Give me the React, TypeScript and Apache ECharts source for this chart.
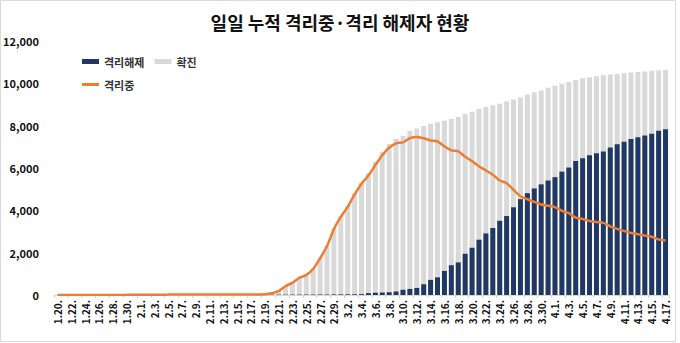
import React, { useEffect, useRef } from "react";
import * as echarts from "echarts";

const categories = [
  "1.20.","1.21.","1.22.","1.23.","1.24.","1.25.","1.26.","1.27.","1.28.","1.29.","1.30.","1.31.",
  "2.1.","2.2.","2.3.","2.4.","2.5.","2.6.","2.7.","2.8.","2.9.","2.10.","2.11.","2.12.","2.13.","2.14.","2.15.","2.16.","2.17.","2.18.","2.19.","2.20.","2.21.","2.22.","2.23.","2.24.","2.25.","2.26.","2.27.","2.28.","2.29.",
  "3.1.","3.2.","3.3.","3.4.","3.5.","3.6.","3.7.","3.8.","3.9.","3.10.","3.11.","3.12.","3.13.","3.14.","3.15.","3.16.","3.17.","3.18.","3.19.","3.20.","3.21.","3.22.","3.23.","3.24.","3.25.","3.26.","3.27.","3.28.","3.29.","3.30.","3.31.",
  "4.1.","4.2.","4.3.","4.4.","4.5.","4.6.","4.7.","4.8.","4.9.","4.10.","4.11.","4.12.","4.13.","4.14.","4.15.","4.16.","4.17."
];

const confirmed = [
  1,1,1,1,2,2,3,4,4,4,6,11,
  12,15,15,16,19,23,24,24,27,27,28,28,28,28,28,29,30,31,51,104,204,433,602,833,977,1261,1766,2337,3150,
  3736,4212,4812,5328,5766,6284,6767,7134,7382,7513,7755,7869,7979,8086,8162,8236,8320,8413,8565,8652,8799,8897,8961,9037,9137,9241,9332,9478,9583,9661,9786,
  9887,9976,10062,10156,10237,10284,10331,10384,10423,10450,10480,10512,10537,10564,10591,10613,10635
];

const released = [
  0,0,0,0,0,0,0,0,0,0,0,0,
  0,0,0,0,1,2,2,2,3,3,4,7,7,7,9,9,10,12,16,16,16,16,18,18,22,22,22,22,27,
  30,31,34,41,88,108,118,130,166,247,288,333,510,714,834,1137,1407,1540,1947,2233,2612,2909,3166,3507,3730,4144,4528,4811,5033,5228,5408,
  5567,5828,6021,6325,6463,6598,6694,6776,6973,7117,7243,7368,7447,7534,7616,7757,7829
];

const isolated = [
  1,1,1,1,2,2,3,4,4,4,6,11,
  12,15,15,16,18,21,22,22,24,24,24,21,21,21,19,20,20,19,35,87,187,415,578,807,945,1227,1731,2299,3106,
  3688,4159,4750,5255,5643,6134,6605,6954,7165,7212,7407,7470,7402,7300,7253,7024,6832,6789,6527,6325,6085,5884,5684,5410,5281,4966,4665,4523,4398,4275,4216,
  4155,3979,3867,3654,3591,3500,3445,3408,3246,3125,3026,2930,2873,2808,2750,2627,2576
];

const titleText = "일일 누적 격리중·격리 해제자 현황";
const fontKR = "'Noto Sans CJK KR', 'Noto Sans', sans-serif";

export default function App() {
  const ref = useRef<HTMLDivElement>(null);
  useEffect(() => {
    if (!ref.current) return;
    const chart = echarts.init(ref.current, null, { renderer: "svg" });
    chart.setOption({
      animation: false,
      backgroundColor: "#ffffff",
      title: {
        text: titleText,
        left: "center",
        top: 8,
        textStyle: { fontFamily: fontKR, fontSize: 18, fontWeight: "bold", color: "#111" },
      },
      graphic: [
        {
          type: "rect",
          shape: { x: 0.5, y: 0.5, width: 675, height: 341 },
          style: { fill: "none", stroke: "#d9d9d9", lineWidth: 1 },
          silent: true,
        },
      ],
      legend: [
        {
          data: ["격리해제", "확진"],
          left: 77,
          top: 51,
          itemWidth: 17,
          itemHeight: 5,
          itemGap: 10,
          icon: "rect",
          textStyle: { fontFamily: fontKR, fontSize: 11, fontWeight: "bold", color: "#333" },
        },
        {
          data: ["격리중"],
          left: 77,
          top: 74,
          itemWidth: 17,
          itemHeight: 3,
          icon: "rect",
          textStyle: { fontFamily: fontKR, fontSize: 11, fontWeight: "bold", color: "#333" },
        },
      ],
      grid: { left: 53, right: 11, top: 41, bottom: 48, containLabel: false },
      xAxis: {
        type: "category",
        data: categories,
        boundaryGap: true,
        axisLine: { lineStyle: { color: "#d9d9d9" } },
        axisTick: { show: true, interval: 1, length: 3, lineStyle: { color: "#d9d9d9" } },
        axisLabel: {
          interval: 1,
          rotate: 90,
          margin: 5,
          fontFamily: fontKR,
          fontSize: 10,
          fontWeight: "bold",
          color: "#111",
        },
      },
      yAxis: {
        type: "value",
        min: 0,
        max: 12000,
        interval: 2000,
        splitLine: { show: false },
        axisLine: { show: false },
        axisTick: { show: false },
        axisLabel: {
          margin: 15,
          fontFamily: fontKR,
          fontSize: 11,
          fontWeight: "bold",
          color: "#111",
          formatter: (v: number) => v.toLocaleString("en-US"),
        },
      },
      series: [
        {
          name: "확진",
          type: "bar",
          data: confirmed,
          barWidth: 5,
          barGap: "-100%",
          itemStyle: { color: "#d9d9d9" },
        },
        {
          name: "격리해제",
          type: "bar",
          data: released,
          barWidth: 5,
          barGap: "-100%",
          itemStyle: { color: "#203864" },
        },
        {
          name: "격리중",
          type: "line",
          data: isolated,
          symbol: "none",
          smooth: 0.2,
          lineStyle: { color: "#ED7D31", width: 2.5 },
          itemStyle: { color: "#ED7D31" },
          z: 5,
        },
      ],
    });
    return () => chart.dispose();
  }, []);
  return (
    <div
      ref={ref}
      style={{ position: "fixed", left: 0, top: 0, width: 680, height: 343 }}
    />
  );
}
